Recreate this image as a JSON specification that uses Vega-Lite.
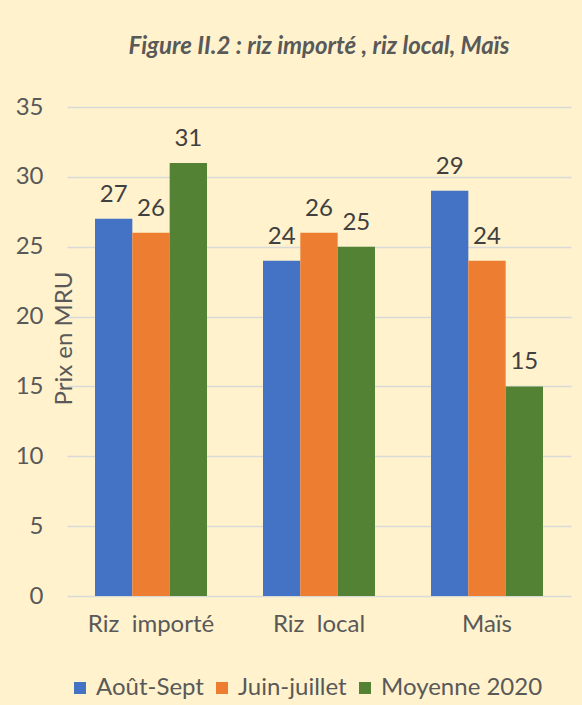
{
  "$schema": "https://vega.github.io/schema/vega-lite/v6.json",
  "width": 504,
  "height": 489,
  "autosize": {"type": "none"},
  "padding": {"left": 67, "top": 107, "right": 11, "bottom": 109},
  "background": "#FFF2CC",
  "title": {
    "text": "Figure II.2 : riz importé , riz local, Maïs",
    "font": "Lato",
    "fontSize": 24,
    "fontWeight": "bold",
    "fontStyle": "italic",
    "color": "#595959",
    "anchor": "middle",
    "offset": 36,
    "dx": 0
  },
  "data": {
    "values": [
      {"produit": "Riz\u00a0 importé", "periode": "Août-Sept", "prix": 27},
      {"produit": "Riz\u00a0 importé", "periode": "Juin-juillet", "prix": 26},
      {"produit": "Riz\u00a0 importé", "periode": "Moyenne 2020", "prix": 31},
      {"produit": "Riz\u00a0 local", "periode": "Août-Sept", "prix": 24},
      {"produit": "Riz\u00a0 local", "periode": "Juin-juillet", "prix": 26},
      {"produit": "Riz\u00a0 local", "periode": "Moyenne 2020", "prix": 25},
      {"produit": "Maïs", "periode": "Août-Sept", "prix": 29},
      {"produit": "Maïs", "periode": "Juin-juillet", "prix": 24},
      {"produit": "Maïs", "periode": "Moyenne 2020", "prix": 15}
    ]
  },
  "encoding": {
    "x": {
      "field": "produit",
      "type": "nominal",
      "sort": ["Riz\u00a0 importé", "Riz\u00a0 local", "Maïs"],
      "scale": {"paddingInner": 0.3333, "paddingOuter": 0.1667},
      "axis": {
        "title": null,
        "domain": false,
        "ticks": false,
        "labelAngle": 0,
        "labelFont": "Lato",
        "labelFontSize": 24,
        "labelColor": "#595959",
        "labelPadding": 16
      }
    },
    "xOffset": {
      "field": "periode",
      "type": "nominal",
      "sort": ["Août-Sept", "Juin-juillet", "Moyenne 2020"],
      "scale": {"paddingInner": 0, "paddingOuter": 0}
    },
    "y": {
      "field": "prix",
      "type": "quantitative",
      "scale": {"domain": [0, 35], "nice": false},
      "axis": {
        "values": [0, 5, 10, 15, 20, 25, 30, 35],
        "title": "Prix en MRU",
        "titleFont": "Lato",
        "titleFontSize": 24,
        "titleFontWeight": "normal",
        "titleColor": "#595959",
        "titleX": -3,
        "titleY": 231,
        "titleAlign": "center",
        "titleBaseline": "middle",
        "domain": false,
        "ticks": false,
        "grid": true,
        "gridColor": "#D9D9D9",
        "gridWidth": 1.5,
        "labelFont": "Lato",
        "labelFontSize": 24,
        "labelColor": "#595959",
        "labelPadding": 24
      }
    }
  },
  "layer": [
    {
      "mark": {"type": "bar"},
      "encoding": {
        "color": {
          "field": "periode",
          "type": "nominal",
          "sort": ["Août-Sept", "Juin-juillet", "Moyenne 2020"],
          "scale": {
            "domain": ["Août-Sept", "Juin-juillet", "Moyenne 2020"],
            "range": ["#4472C4", "#ED7D31", "#548235"]
          },
          "legend": {
            "title": null,
            "orient": "none",
            "direction": "horizontal",
            "legendX": 1,
            "legendY": 569,
            "symbolType": "square",
            "symbolSize": 144,
            "symbolStrokeWidth": 0,
            "labelFont": "Lato",
            "labelFontSize": 24,
            "labelColor": "#595959",
            "labelOffset": 4,
            "labelLimit": 0,
            "columnPadding": 6
          }
        }
      }
    },
    {
      "mark": {
        "type": "text",
        "baseline": "alphabetic",
        "dy": -17,
        "font": "Lato",
        "fontSize": 24,
        "color": "#404040"
      },
      "encoding": {
        "text": {"field": "prix", "type": "quantitative"}
      }
    }
  ],
  "config": {
    "view": {"stroke": null}
  }
}
